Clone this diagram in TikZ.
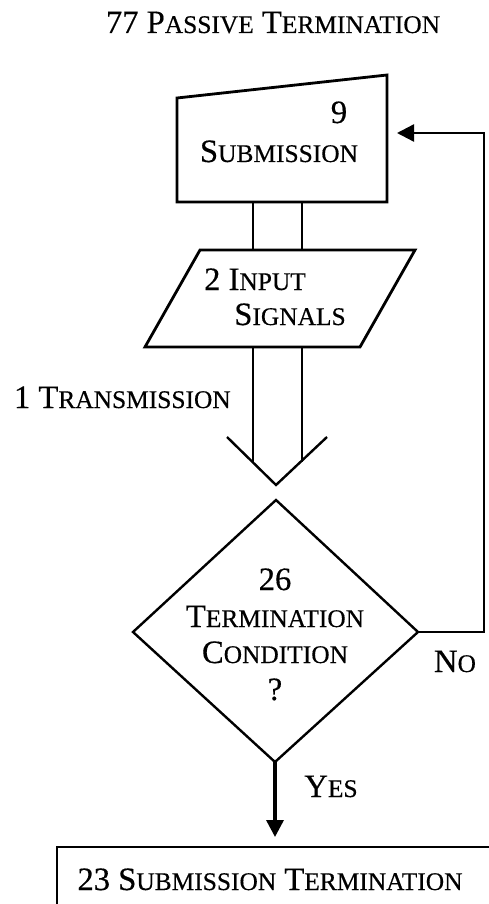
\documentclass[tikz,border=0pt]{standalone}
\usepackage{fontspec}
\setmainfont[FakeBold=0.4]{Liberation Serif}
% reduced-size capitals used for the small-caps look
\newfontfamily\capsfont[Scale=0.78,FakeBold=0.4]{Liberation Serif}
\newcommand\capsc[2]{#1{\capsfont #2}}
\usetikzlibrary{arrows.meta}
\begin{document}
\begin{tikzpicture}[x=1pt,y=-1pt,
  every node/.style={inner sep=0pt, outer sep=0pt, font=\fontsize{32.6}{37}\selectfont},
  txt/.style={anchor=base},
  outline/.style={draw, line width=2.8pt, line join=miter},
  wire/.style={draw, line width=2.4pt},
  tip/.style={-{Triangle[length=17pt,width=17pt]}},
]
\useasboundingbox (0,0) rectangle (489,904);
\clip (0,0) rectangle (489,904);

% submission block (slanted top)
\coordinate (sTL) at (177,98);
\coordinate (sTR) at (387,75);
\coordinate (sBR) at (387,202);
\coordinate (sBL) at (177,202);
\draw[outline] (sTL) -- (sTR) -- (sBR) -- (sBL) -- cycle;

% input signals parallelogram
\coordinate (pTL) at (200,250);
\coordinate (pTR) at (415,250);
\coordinate (pBR) at (360,347);
\coordinate (pBL) at (145,347);
\draw[outline] (pTL) -- (pTR) -- (pBR) -- (pBL) -- cycle;

% double-line link between the two blocks
\coordinate (s1) at (253,202);
\coordinate (s2) at (302,202);
\coordinate (p1) at (253,250);
\coordinate (p2) at (302,250);
\draw[wire] (s1) -- (p1);
\draw[wire] (s2) -- (p2);

% transmission: double shaft with open V head
\coordinate (q1) at (253,347);
\coordinate (q2) at (302,347);
\coordinate (v1) at (253,462.5);
\coordinate (v2) at (302,461.5);
\coordinate (vL) at (227,437);
\coordinate (vT) at (276,485);
\coordinate (vR) at (327,437);
\draw[wire] (q1) -- (v1);
\draw[wire] (q2) -- (v2);
\draw[wire, line join=miter] (vL) -- (vT) -- (vR);

% decision diamond
\coordinate (dT) at (276,500);
\coordinate (dR) at (418,632);
\coordinate (dB) at (275,762);
\coordinate (dL) at (133,632);
\draw[wire, line join=miter] (dT) -- (dR) -- (dB) -- (dL) -- cycle;

% "No" loop back to the submission block
\coordinate (cA) at (484,632);
\coordinate (cB) at (484,133);
\coordinate (sIn) at (397,133);
\draw[wire, tip] (dR) -- (cA) -- (cB) -- (sIn);

% "Yes" exit to the terminal block
\coordinate (tIn) at (275,837);
\draw[line width=3.4pt, tip] (dB) -- (tIn);

% terminal block
\draw[line width=1.8pt] (57,847) rectangle (500,930);

% texts
\node[txt] (title) at (273,33) {77 \capsc{P}{ASSIVE} \capsc{T}{ERMINATION}};
\node[txt] (sNum) at (339,123) {9};
\node[txt] (sName) at (279,162) {\capsc{S}{UBMISSION}};
\node[txt] (in1) at (255,290) {2 \capsc{I}{NPUT}};
\node[txt] (in2) at (290,325) {\capsc{S}{IGNALS}};
\node[anchor=base west] (trans) at (14,408) {1 \capsc{T}{RANSMISSION}};
\node[txt] (c1) at (275,590) {26};
\node[txt] (c2) at (275,627) {\capsc{T}{ERMINATION}};
\node[txt] (c3) at (275,663) {\capsc{C}{ONDITION}};
\node[txt] (c4) at (275,700) {?};
\node[txt] (no) at (455,672) {\capsc{N}{O}};
\node[txt] (yes) at (331,797) {\capsc{Y}{ES}};
\node[txt] (term) at (270,890) {23 \capsc{S}{UBMISSION} \capsc{T}{ERMINATION}};
\end{tikzpicture}
\end{document}
